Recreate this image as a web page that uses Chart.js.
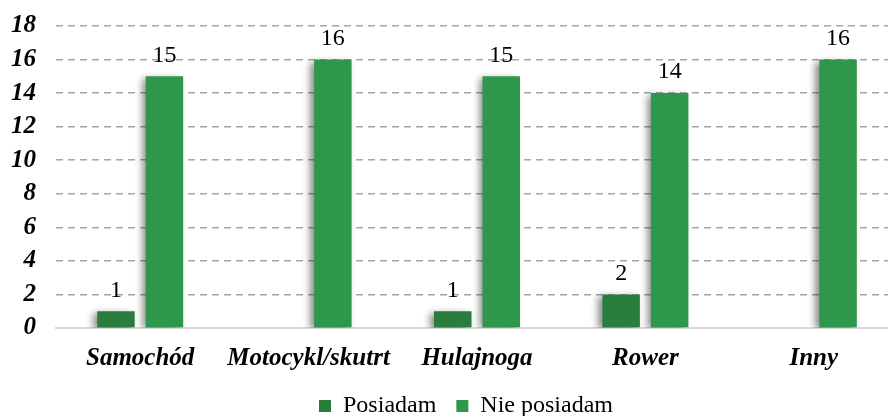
<!DOCTYPE html>
<html>
<head>
<meta charset="utf-8">
<script src="https://cdn.jsdelivr.net/npm/chart.js@4"></script>
<style>
  html, body { margin: 0; padding: 0; background: #fff; overflow: hidden; }
  #wrap { width: 888px; height: 416px; overflow: hidden; }
</style>
</head>
<body>
<!-- plot area runs a bit past the right edge, as in the cropped original -->
<div id="wrap"><canvas id="chart" width="898" height="416"></canvas></div>
<script>
const categories = ['Samochód', 'Motocykl/skutrt', 'Hulajnoga', 'Rower', 'Inny'];
const posiadam = [1, 0, 1, 2, 0];
const niePosiadam = [15, 16, 15, 14, 16];
const seriesNames = ['Posiadam', 'Nie posiadam'];

const SERIF = '"Liberation Serif", "Times New Roman", serif';

// bar shadow, like the office chart
const shadowPlugin = {
    id: 'barShadow',
    beforeDatasetDraw(chart) {
        const ctx = chart.ctx;
        ctx.save();
        ctx.shadowColor = 'rgba(0,0,0,0.45)';
        ctx.shadowBlur = 7;
        ctx.shadowOffsetX = -4;
        ctx.shadowOffsetY = 2;
    },
    afterDatasetDraw(chart) {
        chart.ctx.restore();
    }
};

// values above bars (zeros are skipped)
const valueLabels = {
    id: 'valueLabels',
    afterDatasetsDraw(chart) {
        const ctx = chart.ctx;
        ctx.save();
        ctx.font = '24px ' + SERIF;
        ctx.fillStyle = '#000';
        ctx.textAlign = 'center';
        ctx.textBaseline = 'bottom';
        chart.data.datasets.forEach((ds, i) => {
            chart.getDatasetMeta(i).data.forEach((bar, j) => {
                if (!ds.data[j]) return;
                ctx.fillText(ds.data[j], bar.x, bar.y - 9);
            });
        });
        ctx.restore();
    }
};

// legend is centred under the plot area, not the whole canvas
const legendShift = {
    id: 'legendShift',
    afterLayout(chart) {
        const dx = ((chart.chartArea.left + chart.chartArea.right) - (chart.legend.left + chart.legend.right)) / 2 - 11;
        chart.legend.left += dx;
        chart.legend.right += dx;
    }
};

new Chart(document.getElementById('chart'), {
    type: 'bar',
    data: {
        labels: categories,
        datasets: [
            { label: seriesNames[0], data: posiadam, backgroundColor: '#287f3d' },
            { label: seriesNames[1], data: niePosiadam, backgroundColor: '#2f974c' }
        ]
    },
    options: {
        responsive: false,
        animation: false,
        categoryPercentage: 0.576,
        barPercentage: 0.773,
        layout: { padding: { left: 10, right: 0, top: 26, bottom: -12 } },
        scales: {
            x: {
                grid: { display: false, drawTicks: false },
                border: { color: '#d9d9d9', width: 2 },
                ticks: {
                    color: '#000',
                    padding: 16,
                    autoSkip: false,
                    maxRotation: 0,
                    minRotation: 0,
                    font: { family: SERIF, size: 25, style: 'italic', weight: 'bold' }
                },
                afterFit(scale) {
                    scale.paddingLeft = 0;
                    scale.paddingRight = 0;
                    scale.height -= 16;
                }
            },
            y: {
                min: 0,
                max: 18,
                ticks: {
                    stepSize: 2,
                    autoSkip: false,
                    color: '#000',
                    padding: 20,
                    font: { family: SERIF, size: 25, style: 'italic', weight: 'bold' }
                },
                grid: {
                    color: ctx => ctx.tick.value === 0 ? 'rgba(0,0,0,0)' : '#a6a6a6',
                    lineWidth: 1.5,
                    drawTicks: false
                },
                border: { display: false, dash: [7, 5] },
                afterFit(scale) {
                    scale.width = 46;
                    scale.paddingTop = 0;
                    scale.paddingBottom = 0;
                }
            }
        },
        plugins: {
            legend: {
                position: 'bottom',
                labels: {
                    color: '#000',
                    boxWidth: 12,
                    boxHeight: 12,
                    padding: 20,
                    font: { family: SERIF, size: 24 }
                }
            },
            tooltip: { enabled: false }
        }
    },
    plugins: [shadowPlugin, valueLabels, legendShift]
});
</script>
</body>
</html>
